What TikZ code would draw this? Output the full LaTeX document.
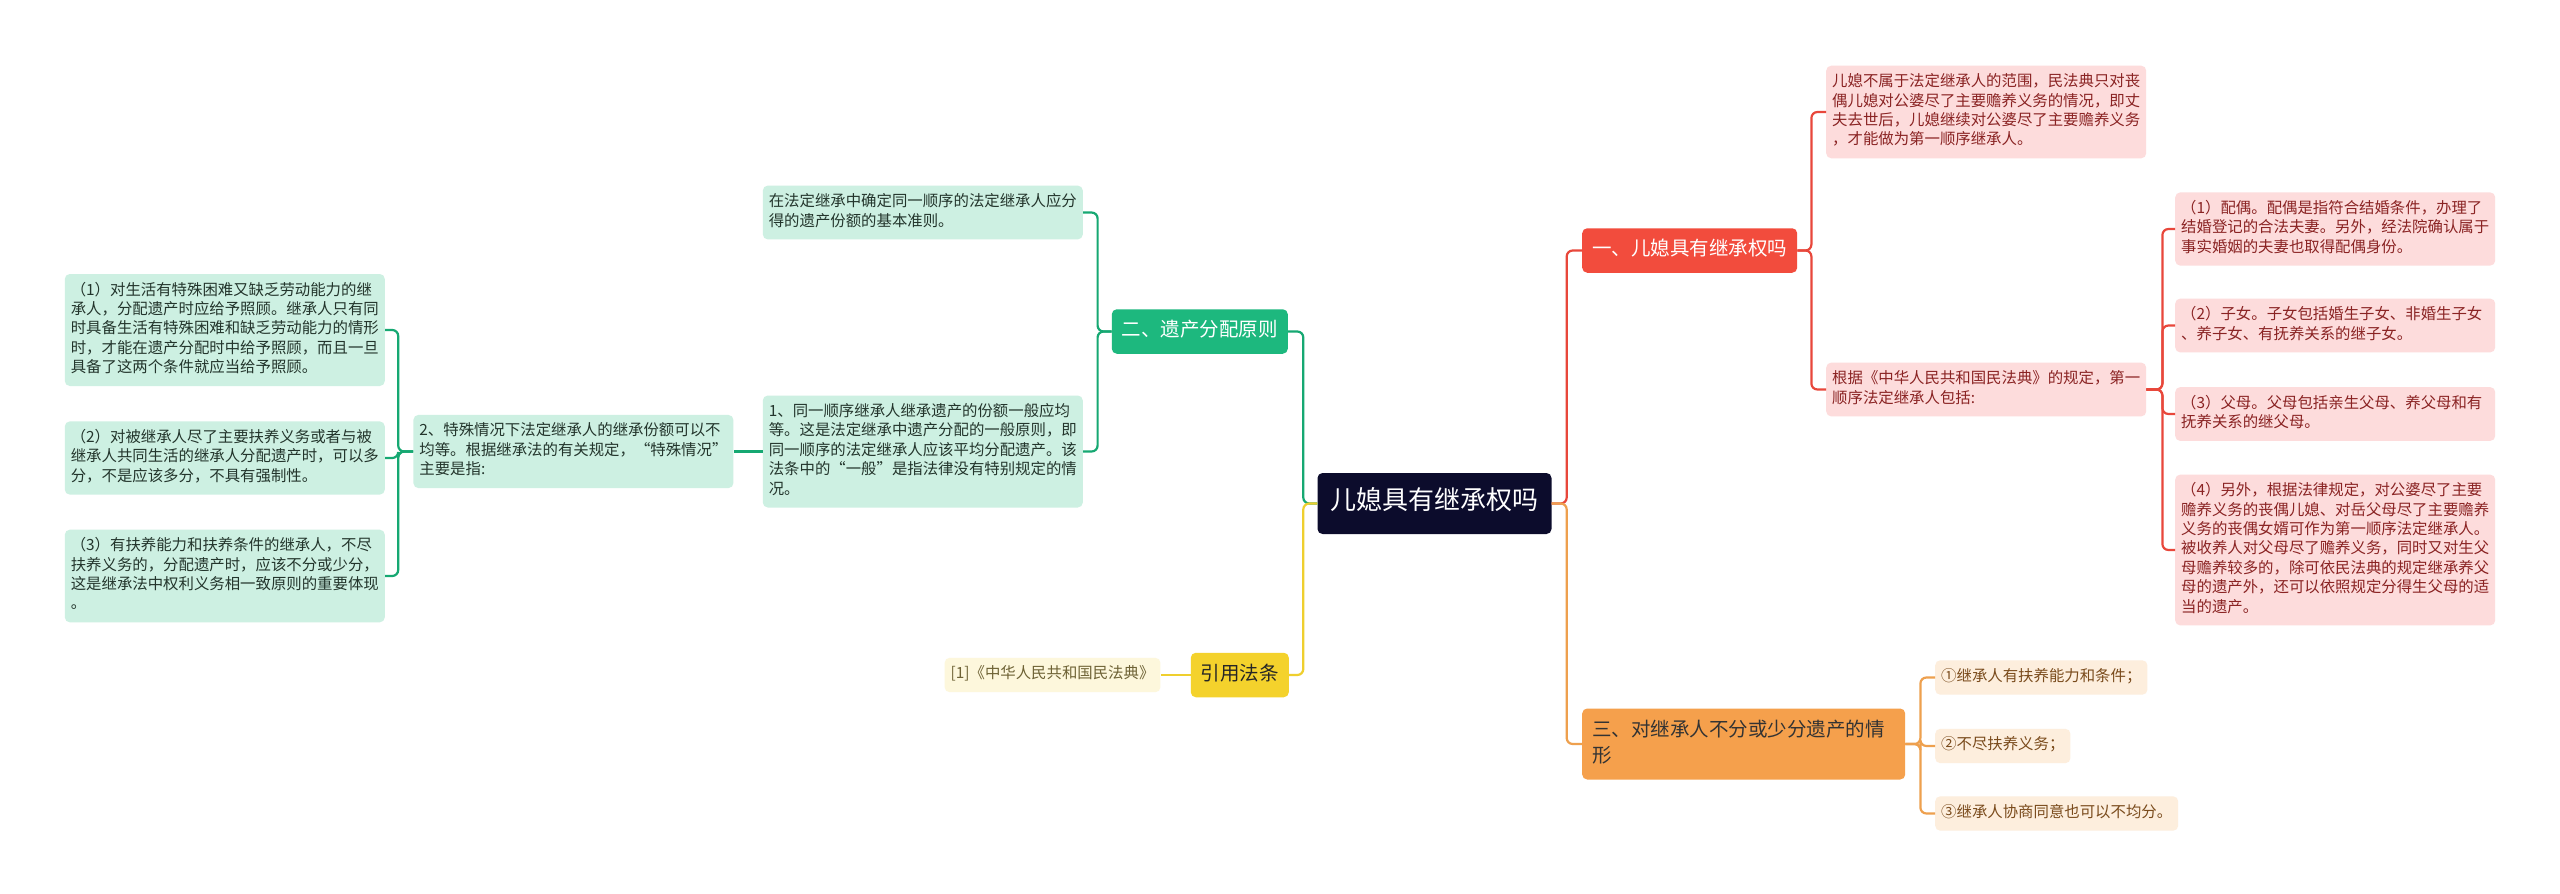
\documentclass[tikz,border=0pt]{standalone}
\usepackage{fontspec}
\setmainfont{Noto Sans CJK SC}
\usepackage{xcolor}
\usepackage{tikz}
\usetikzlibrary{positioning}

\definecolor{rootbg}{HTML}{0C0C2C}
\definecolor{redbg}{HTML}{F24C3D}
\definecolor{redline}{HTML}{E8473B}
\definecolor{pinkbg}{HTML}{FDDCDC}
\definecolor{pinktxt}{HTML}{8A2323}
\definecolor{greenbg}{HTML}{1DB87E}
\definecolor{greenline}{HTML}{16A872}
\definecolor{mintbg}{HTML}{CDF0E2}
\definecolor{minttxt}{HTML}{23352C}
\definecolor{orangebg}{HTML}{F5A04C}
\definecolor{orangeline}{HTML}{EEA04E}
\definecolor{peachbg}{HTML}{FDEEDD}
\definecolor{peachtxt}{HTML}{7A4B1C}
\definecolor{yellowbg}{HTML}{F4D22C}
\definecolor{yellowline}{HTML}{EFCF2E}
\definecolor{creambg}{HTML}{FDF7DC}
\definecolor{creamtxt}{HTML}{6E6235}

\begin{document}
\begin{tikzpicture}[x=1pt, y=-1pt,
      box/.style={rounded corners=5pt, align=left,
        execute at begin node=\strut, execute at end node=\strut},
      rootbox/.style={box, fill=rootbg, text=white, align=center,
        font=\fontsize{26}{32}\selectfont, inner xsep=13pt, inner ysep=14.5pt},
      topicbox/.style={box, font=\fontsize{19.5}{26.5}\selectfont,
        inner xsep=10pt, inner ysep=9pt},
      leafbox/.style={box, font=\fontsize{15.4}{19.4}\selectfont,
        inner xsep=6pt, inner ysep=7.5pt},
      wideleaf/.style={leafbox, text width=308pt},
      pinkleaf/.style={wideleaf, fill=pinkbg, text=pinktxt},
      mintleaf/.style={wideleaf, fill=mintbg, text=minttxt},
      peachleaf/.style={leafbox, fill=peachbg, text=peachtxt},
      creamleaf/.style={leafbox, fill=creambg, text=creamtxt},
      link/.style={line width=2.2pt, rounded corners=6pt}
    ]
    \fill[white] (0,0) rectangle (2560,894);
    \useasboundingbox (0,0) rectangle (2560,894);

    \node[rootbox] (title) at (1434.5,503.5) {儿媳具有继承权吗};

    % right side
    \node[topicbox, fill=redbg, text=white, anchor=west] (rightsTopic)
      at (1582,250.5) {一、儿媳具有继承权吗};
    \node[topicbox, fill=orangebg, text=black!80, text width=303pt, anchor=west]
      (lessTopic) at (1582,744) {三、对继承人不分或少分遗产的情\\形};

    \node[pinkleaf, anchor=west] (scopeNote) at (1826,112)
      {儿媳不属于法定继承人的范围，民法典只对丧\\
       偶儿媳对公婆尽了主要赡养义务的情况，即丈\\
       夫去世后，儿媳继续对公婆尽了主要赡养义务\\
       ，才能做为第一顺序继承人。};
    \node[pinkleaf, anchor=west] (orderNote) at (1826,389.5)
      {根据《中华人民共和国民法典》的规定，第一\\
       顺序法定继承人包括:};

    \node[pinkleaf, anchor=west] (spouse) at (2175,229)
      {（1）配偶。配偶是指符合结婚条件，办理了\\
       结婚登记的合法夫妻。另外，经法院确认属于\\
       事实婚姻的夫妻也取得配偶身份。};
    \node[pinkleaf, anchor=west] (children) at (2175,325.5)
      {（2）子女。子女包括婚生子女、非婚生子女\\
       、养子女、有抚养关系的继子女。};
    \node[pinkleaf, anchor=west] (parents) at (2175,414)
      {（3）父母。父母包括亲生父母、养父母和有\\
       抚养关系的继父母。};
    \node[pinkleaf, anchor=west] (inLaws) at (2175,550)
      {（4）另外，根据法律规定，对公婆尽了主要\\
       赡养义务的丧偶儿媳、对岳父母尽了主要赡养\\
       义务的丧偶女婿可作为第一顺序法定继承人。\\
       被收养人对父母尽了赡养义务，同时又对生父\\
       母赡养较多的，除可依民法典的规定继承养父\\
       母的遗产外，还可以依照规定分得生父母的适\\
       当的遗产。};

    \node[peachleaf, anchor=west] (ability) at (1935,677.5)
      {①继承人有扶养能力和条件；};
    \node[peachleaf, anchor=west] (noDuty) at (1935,746)
      {②不尽扶养义务；};
    \node[peachleaf, anchor=west] (agreed) at (1935,813.5)
      {③继承人协商同意也可以不均分。};

    % left side
    \node[topicbox, fill=greenbg, text=white, anchor=east] (shareTopic)
      at (1288,331.5) {二、遗产分配原则};
    \node[topicbox, fill=yellowbg, text=black!85, anchor=east] (lawTopic)
      at (1289,675) {引用法条};

    \node[mintleaf, anchor=east] (ruleNote) at (1083,212.5)
      {在法定继承中确定同一顺序的法定继承人应分\\
       得的遗产份额的基本准则。};
    \node[mintleaf, anchor=east] (equalShare) at (1083,451.5)
      {1、同一顺序继承人继承遗产的份额一般应均\\
       等。这是法定继承中遗产分配的一般原则，即\\
       同一顺序的法定继承人应该平均分配遗产。该\\
       法条中的“一般”是指法律没有特别规定的情\\
       况。};
    \node[mintleaf, left=29pt of equalShare] (specialCase)
      {2、特殊情况下法定继承人的继承份额可以不\\
       均等。根据继承法的有关规定，“特殊情况”\\
       主要是指:};

    \node[mintleaf, anchor=east] (hardship) at (385,330)
      {（1）对生活有特殊困难又缺乏劳动能力的继\\
       承人，分配遗产时应给予照顾。继承人只有同\\
       时具备生活有特殊困难和缺乏劳动能力的情形\\
       时，才能在遗产分配时中给予照顾，而且一旦\\
       具备了这两个条件就应当给予照顾。};
    \node[mintleaf, anchor=east] (support) at (385,458)
      {（2）对被继承人尽了主要扶养义务或者与被\\
       继承人共同生活的继承人分配遗产时，可以多\\
       分，不是应该多分，不具有强制性。};
    \node[mintleaf, anchor=east] (neglect) at (385,576)
      {（3）有扶养能力和扶养条件的继承人，不尽\\
       扶养义务的，分配遗产时，应该不分或少分，\\
       这是继承法中权利义务相一致原则的重要体现\\
       。};

    \node[creamleaf, left=30pt of lawTopic] (civilCode)
      {[1]《中华人民共和国民法典》};

    % connectors
    \draw[link, draw=redline] (title.east) -- ++(15,0) |- (rightsTopic.west);
    \draw[link, draw=orangeline] (title.east) -- ++(15,0) |- (lessTopic.west);
    \draw[link, draw=greenline] (title.west) -- ++(-14,0) |- (shareTopic.east);
    \draw[link, draw=yellowline] (title.west) -- ++(-14,0) |- (lawTopic.east);

    \draw[link, draw=redline] (rightsTopic.east) -- ++(14,0) |- (scopeNote.west);
    \draw[link, draw=redline] (rightsTopic.east) -- ++(14,0) |- (orderNote.west);
    \draw[link, draw=redline] (orderNote.east) -- ++(16,0) |- (spouse.west);
    \draw[link, draw=redline] (orderNote.east) -- ++(16,0) |- (children.west);
    \draw[link, draw=redline] (orderNote.east) -- ++(16,0) |- (parents.west);
    \draw[link, draw=redline] (orderNote.east) -- ++(16,0) |- (inLaws.west);

    \draw[link, draw=orangeline] (lessTopic.east) -- ++(15,0) |- (ability.west);
    \draw[link, draw=orangeline] (lessTopic.east) -- ++(15,0) |- (noDuty.west);
    \draw[link, draw=orangeline] (lessTopic.east) -- ++(15,0) |- (agreed.west);

    \draw[link, draw=greenline] (shareTopic.west) -- ++(-14,0) |- (ruleNote.east);
    \draw[link, draw=greenline] (shareTopic.west) -- ++(-14,0) |- (equalShare.east);
    \draw[link, draw=greenline] (equalShare.west) -- (specialCase.east);
    \draw[link, draw=greenline] (specialCase.west) -- ++(-15,0) |- (hardship.east);
    \draw[link, draw=greenline] (specialCase.west) -- ++(-15,0) |- (support.east);
    \draw[link, draw=greenline] (specialCase.west) -- ++(-15,0) |- (neglect.east);

    \draw[link, draw=yellowline] (lawTopic.west) -- (civilCode.east);
  \end{tikzpicture}
\end{document}
